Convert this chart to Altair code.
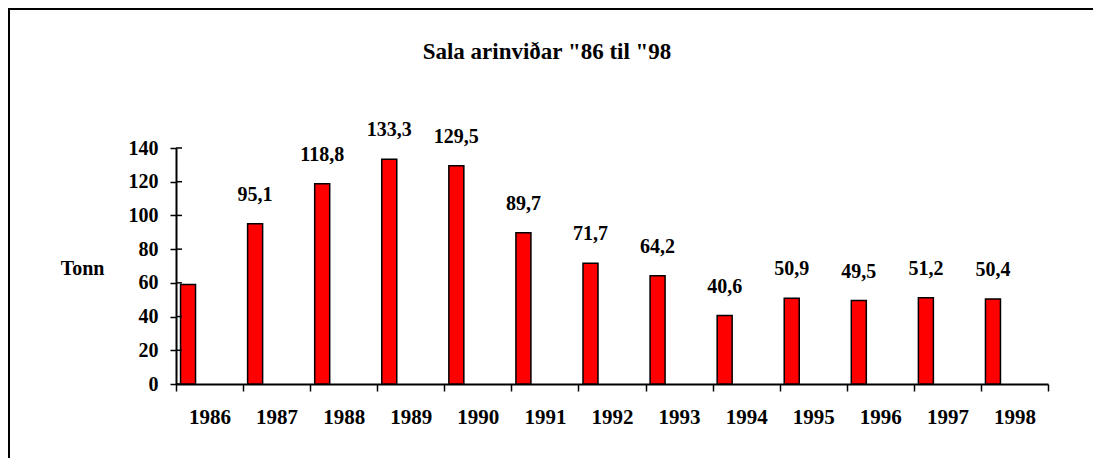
import altair as alt
import pandas as pd

years = [str(y) for y in range(1986, 1999)]
values = [59.0, 95.1, 118.8, 133.3, 129.5, 89.7, 71.7, 64.2, 40.6, 50.9, 49.5, 51.2, 50.4]
labels = ["", "95,1", "118,8", "133,3", "129,5", "89,7", "71,7", "64,2", "40,6", "50,9", "49,5", "51,2", "50,4"]
y_ticks = [0, 20, 40, 60, 80, 100, 120, 140]

df = pd.DataFrame({"year": years, "value": values, "label": labels})
ticks_df = pd.DataFrame({"value": y_ticks})
box_df = pd.DataFrame({"b": [0]})

W, H = 872, 236
PL, PT, PR, PB = 168, 140, 45, 74
FONT = "Liberation Serif"
BAR_OFF = -21.5

x_axis = alt.Axis(
    title=None, labelAngle=0, tickBand="extent", tickSize=7, tickWidth=1.5,
    tickColor="black", domainColor="black", domainWidth=2,
    labelPadding=15, labelFont=FONT, labelFontSize=21, labelFontWeight="bold",
    labelColor="black", labelBaseline="top", labelOverlap=False,
)
x_scale = alt.Scale(paddingInner=0, paddingOuter=0)

y_axis = alt.Axis(
    values=y_ticks, grid=False, tickSize=6, tickWidth=1.5, tickColor="black",
    domainColor="black", domainWidth=2, labelPadding=12, labelFont=FONT,
    labelFontSize=20, labelFontWeight="bold", labelColor="black",
    labelOverlap=False, labelFlush=False,
    title="Tonn", titleAngle=0, titleX=-94, titleY=120, titleAlign="center",
    titleBaseline="middle", titleFont=FONT, titleFontSize=20,
    titleFontWeight="bold", titleColor="black",
)
y_scale = alt.Scale(domain=[0, 140], nice=False)


def y_enc():
    return alt.Y("value:Q", scale=y_scale, axis=y_axis)


bars = alt.Chart(df).mark_bar(
    width=15, xOffset=BAR_OFF, fill="#FF0000", stroke="black", strokeWidth=1.5
).encode(x=alt.X("year:O", scale=x_scale, axis=x_axis), y=y_enc())

text = alt.Chart(df).mark_text(
    xOffset=BAR_OFF, dy=-19, baseline="bottom", align="center", font=FONT,
    fontSize=20, fontWeight="bold", color="black"
).encode(x=alt.X("year:O", scale=x_scale, axis=x_axis), y=y_enc(), text="label:N")

inner_ticks = alt.Chart(ticks_df).mark_rule(color="black", strokeWidth=1.5).encode(
    y=y_enc(), x=alt.value(0), x2=alt.value(6)
)

border = alt.Chart(box_df).mark_rect(
    fillOpacity=0, stroke="black", strokeWidth=2
).encode(
    x=alt.value(-167), x2=alt.value(W + PR + 20),
    y=alt.value(-139), y2=alt.value(H + PB + 20),
)

chart = alt.layer(border, bars, text, inner_ticks).properties(
    width=W, height=H,
    title=alt.Title(
        'Sala arinviðar "86 til "98', font=FONT, fontSize=23, fontWeight="bold",
        color="black", anchor="middle", dx=-65, offset=-56,
    ),
    padding={"left": PL, "top": PT, "right": PR, "bottom": PB},
    autosize=alt.AutoSizeParams(type="none"),
).configure(background="white", view=alt.ViewConfig(stroke=None))

chart.save("out.html", embed_options={"renderer": "svg", "actions": False})
